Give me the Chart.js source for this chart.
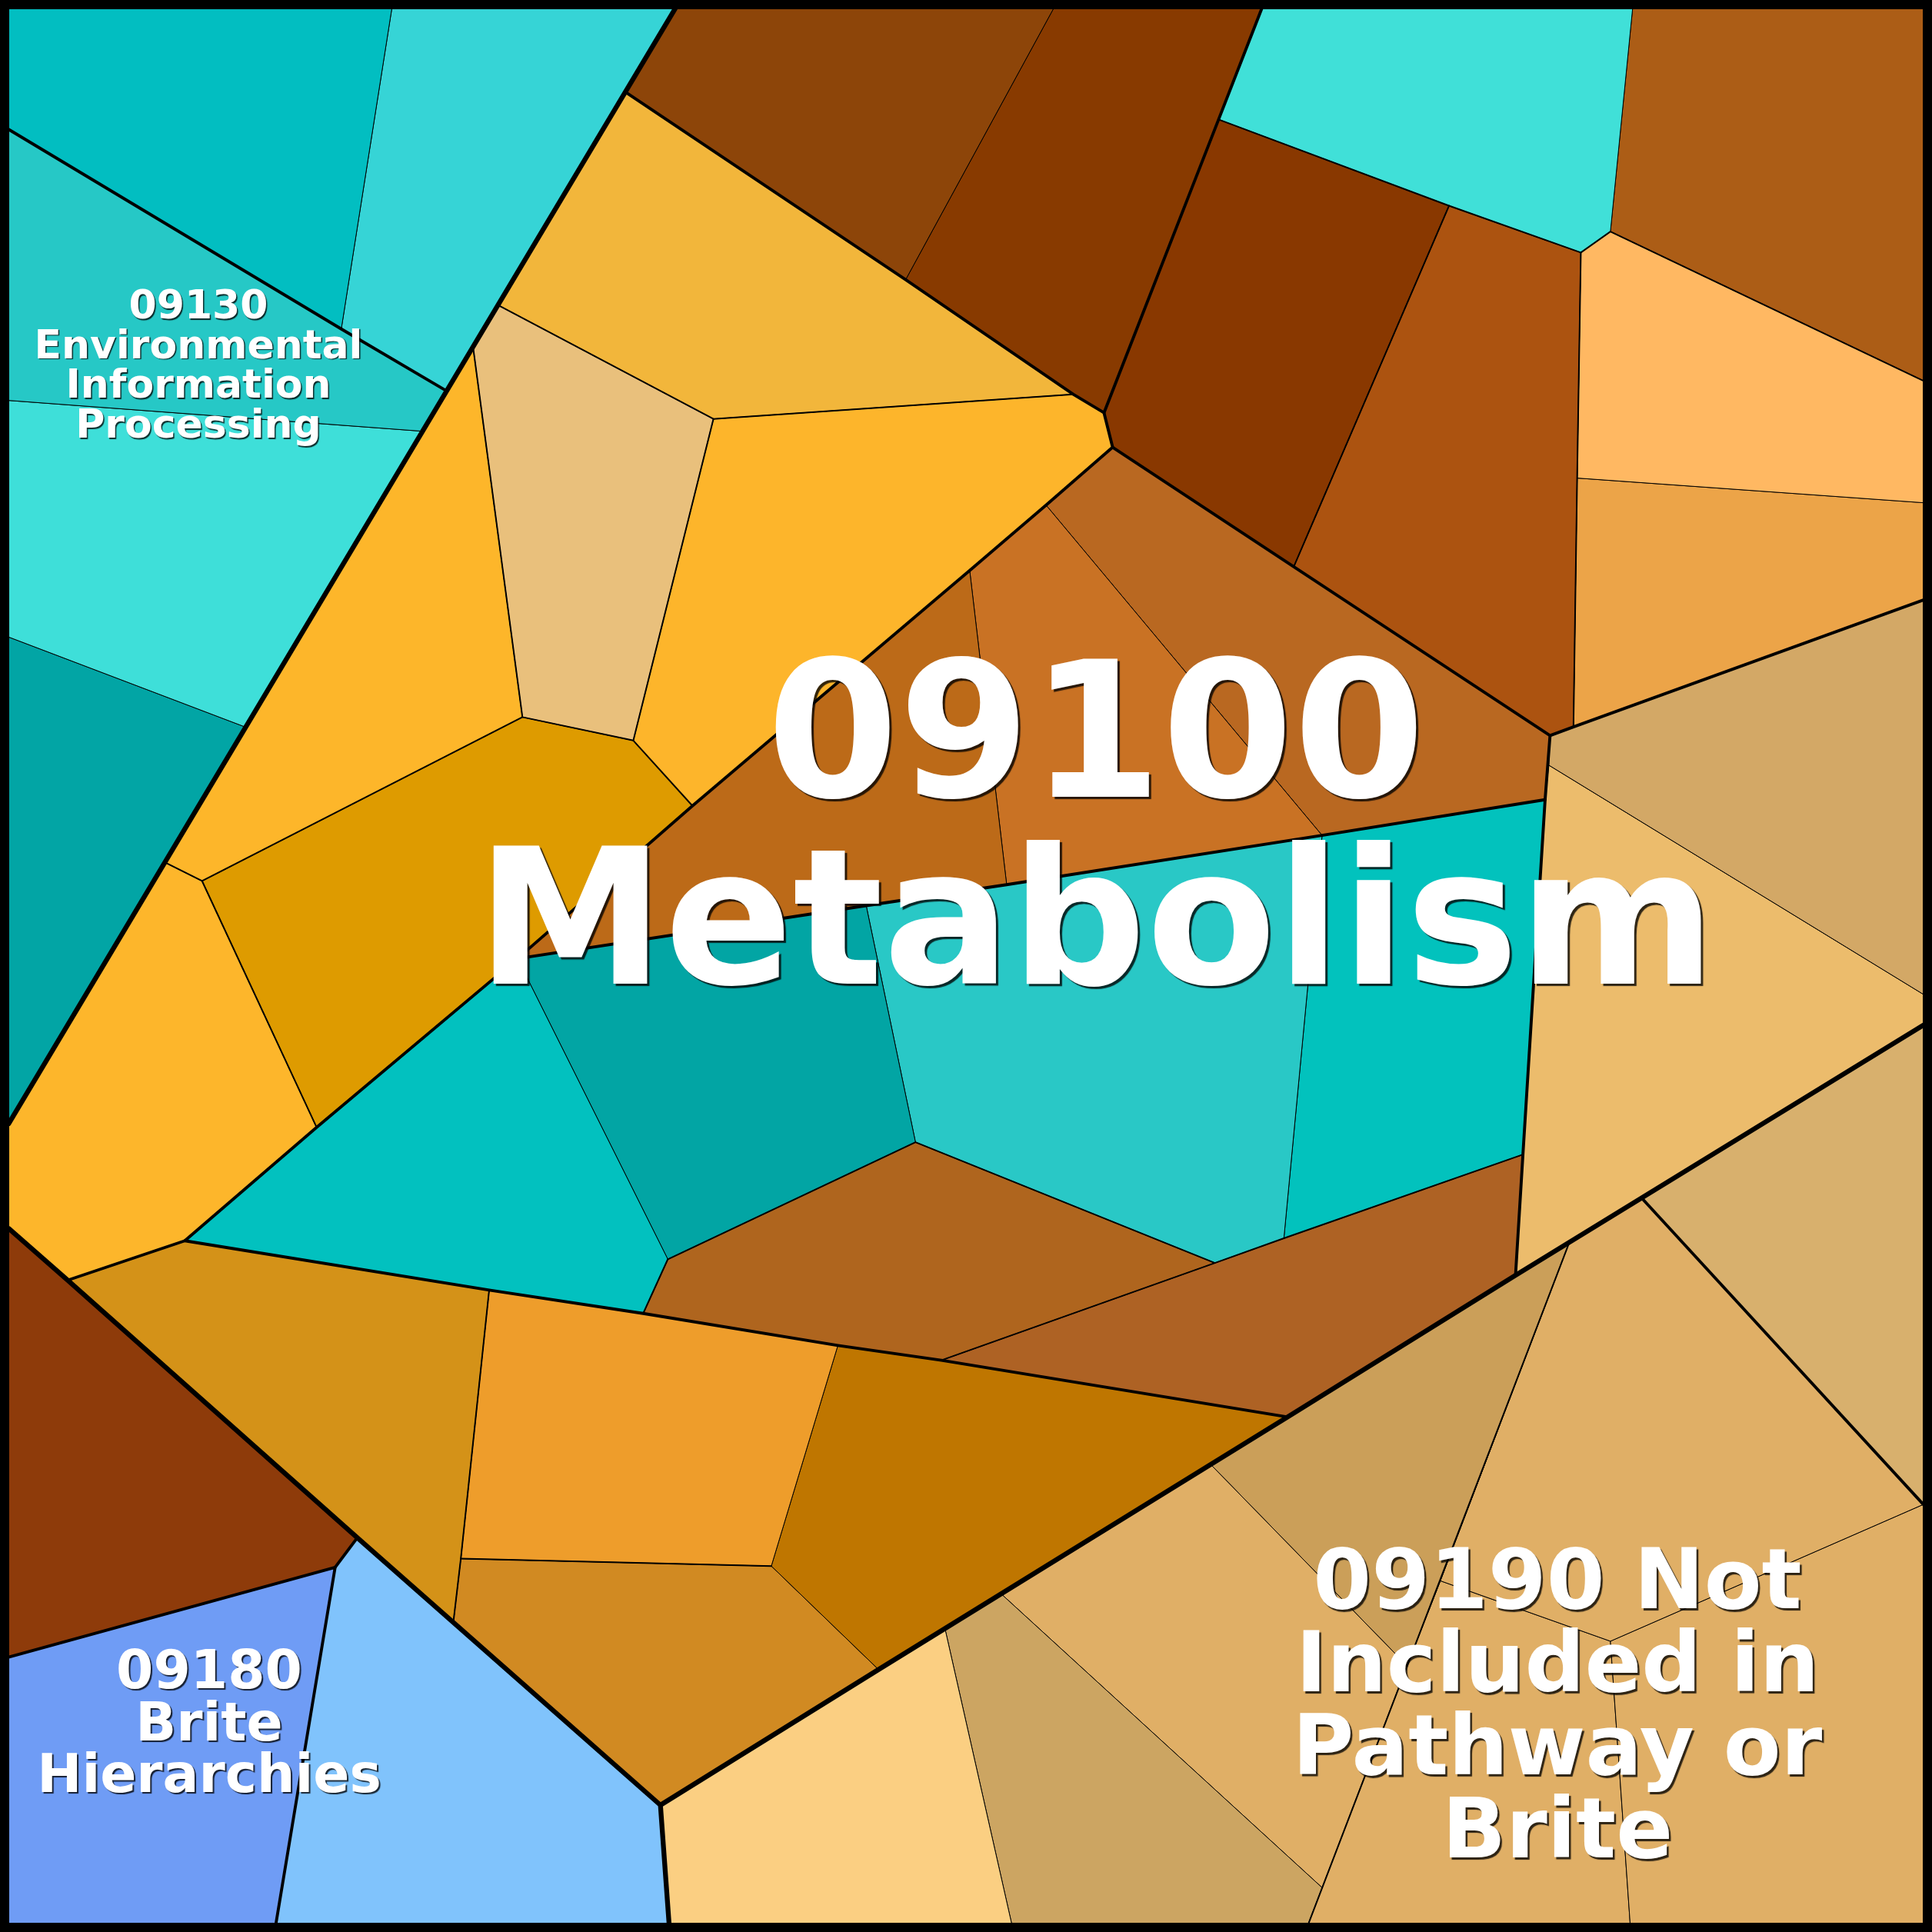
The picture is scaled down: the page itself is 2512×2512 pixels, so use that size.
<!DOCTYPE html>
<html>
<head>
<meta charset="utf-8">
<style>
html,body{margin:0;padding:0;background:#000;}
canvas{display:block;}
</style>
<script src="https://cdn.jsdelivr.net/npm/chart.js@4.4.1/dist/chart.umd.min.js"></script>
</head>
<body>
<canvas id="c" width="2512" height="2512" style="width:2512px;height:2512px"></canvas>
<script>
// ---------- DATA (Voronoi treemap cells, in chart units 0..1568) ----------
const cellIds = ['envA','envB','envC','envD','envE','Q','R','S','T','U','V','W','X','AK','AI','AJ','Y','Z','AA','AB','AC','AD','AE','AF','AG','AH','AL','TR','AM','AN','AO','AP','AQ','AR','F','G','H','I','J','K','L','M','N','O','P'];
const cellVertices = [
  [[7,7],[318,7],[277,267],[7,105]],
  [[318,7],[548,7],[362,317],[277,267]],
  [[7,105],[277,267],[362,317],[343,350],[7,325]],
  [[7,325],[343,350],[199,590],[7,517]],
  [[7,517],[199,590],[7,912]],
  [[548,7],[855,7],[735,227],[508,75]],
  [[855,7],[1024,7],[896,335],[871,320],[735,227]],
  [[508,75],[735,227],[871,320],[579,340],[405,248]],
  [[405,248],[579,340],[514,601],[424,582],[384,282]],
  [[579,340],[871,320],[896,335],[903,363],[849,410],[787,463],[562,654],[514,601]],
  [[384,282],[424,582],[164,715],[134,700]],
  [[424,582],[514,601],[562,654],[420,778],[257,915],[164,715]],
  [[134,700],[164,715],[257,915],[150,1007],[55,1039],[7,997],[7,912]],
  [[562,654],[787,463],[817,718],[703,735],[420,778]],
  [[787,463],[849,410],[1073,678],[817,718]],
  [[849,410],[903,363],[1050,460],[1258,597],[1254,649],[1073,678]],
  [[150,1007],[257,915],[420,778],[542,1022],[522,1066],[397,1047]],
  [[420,778],[703,735],[743,927],[542,1022]],
  [[703,735],[817,718],[1073,678],[1042,1005],[986,1025],[743,927]],
  [[1073,678],[1254,649],[1236,937],[1042,1005]],
  [[542,1022],[743,927],[986,1025],[764,1104],[680,1092],[522,1066]],
  [[986,1025],[1042,1005],[1236,937],[1230,1035],[1045,1150],[764,1104]],
  [[55,1039],[150,1007],[397,1047],[374,1265],[368,1316],[290,1248]],
  [[397,1047],[522,1066],[680,1092],[626,1271],[374,1265]],
  [[680,1092],[764,1104],[1045,1150],[713,1355],[626,1271]],
  [[374,1265],[626,1271],[713,1355],[536,1465],[368,1316]],
  [[896,335],[989,97],[1176,167],[1050,460],[903,363]],
  [[989,97],[1024,7],[1325,7],[1307,188],[1283,205],[1176,167]],
  [[1176,167],[1283,205],[1280,388],[1277,590],[1258,597],[1050,460]],
  [[1325,7],[1561,7],[1561,309],[1307,188]],
  [[1283,205],[1307,188],[1561,309],[1561,408],[1280,388]],
  [[1280,388],[1561,408],[1561,487],[1277,590]],
  [[1258,597],[1277,590],[1561,487],[1561,807],[1257,621]],
  [[1257,621],[1561,807],[1561,832],[1230,1035],[1236,937],[1254,649]],
  [[7,997],[55,1039],[290,1248],[272,1272],[7,1345]],
  [[7,1345],[272,1272],[224,1561],[7,1561]],
  [[272,1272],[290,1248],[536,1465],[543,1561],[224,1561]],
  [[536,1465],[767,1322],[821,1561],[543,1561]],
  [[767,1322],[813,1294],[1073,1532],[1062,1561],[821,1561]],
  [[813,1294],[983,1189],[1142,1352],[1073,1532]],
  [[983,1189],[1045,1150],[1230,1035],[1273,1010],[1169,1283],[1142,1352]],
  [[1273,1010],[1333,973],[1561,1221],[1307,1332],[1169,1283]],
  [[1333,973],[1561,832],[1561,1221]],
  [[1307,1332],[1561,1221],[1561,1561],[1323,1561]],
  [[1169,1283],[1307,1332],[1323,1561],[1062,1561],[1073,1532],[1142,1352]]
];
// hierarchy boundaries (top level, second level, third level)
const edgesLevel1 = [
  [[548,7],[7,912]],
  [[7,997],[55,1039],[290,1248],[536,1465],[543,1561]],
  [[536,1465],[713,1355],[1045,1150],[1230,1035],[1561,832]]
];
const edgesLevel2 = [
  [[7,105],[277,267],[362,317]],
  [[508,75],[735,227],[871,320],[896,335],[989,97],[1024,7]],
  [[896,335],[903,363],[849,410],[787,463],[562,654],[420,778],[257,915],[150,1007],[55,1039]],
  [[903,363],[1050,460],[1258,597],[1254,649],[1236,937],[1230,1035]],
  [[1258,597],[1277,590],[1561,487]],
  [[420,778],[703,735],[817,718],[1073,678],[1254,649]],
  [[150,1007],[397,1047],[522,1066],[680,1092],[764,1104],[1045,1150]],
  [[7,1345],[272,1272],[224,1561]],
  [[272,1272],[290,1248]],
  [[1333,973],[1561,1221]]
];
const edgesLevel3 = [
  [[405,248],[579,340],[871,320]],
  [[579,340],[514,601],[562,654]],
  [[384,282],[424,582],[514,601]],
  [[424,582],[164,715],[134,700]],
  [[164,715],[257,915]],
  [[989,97],[1176,167],[1283,205],[1307,188],[1561,309]],
  [[1283,205],[1280,388],[1277,590]],
  [[1176,167],[1050,460]],
  [[397,1047],[374,1265],[368,1316]],
  [[374,1265],[626,1271]],
  [[542,1022],[743,927],[986,1025],[1042,1005],[1236,937]],
  [[986,1025],[764,1104]],
  [[542,1022],[522,1066]],
  [[1273,1010],[1062,1561]]
];
const groupLabels = [
  ['09130','Environmental','Information','Processing'],
  ['09100','Metabolism'],
  ['09180','Brite','Hierarchies'],
  ['09190 Not','Included in','Pathway or','Brite']
];

// ---------- STYLE ----------
const cellFill = {
  envA:'#02BEC1', envB:'#36D4D6', envC:'#26C8C6', envD:'#3EDFD9', envE:'#02A5A5',
  Q:'#8D4509', R:'#883A00', S:'#F2B63B', T:'#E9C07C', U:'#FDB52B', V:'#FDB62A', W:'#DE9B00', X:'#FDB62B',
  AK:'#BC6A18', AI:'#C97224', AJ:'#B96821',
  Y:'#02C1BF', Z:'#02A5A4', AA:'#29C8C6', AB:'#02C2BD', AC:'#AF651E', AD:'#AE6224',
  AE:'#D49218', AF:'#EE9D2B', AG:'#BF7600', AH:'#D18A22',
  AL:'#893800', TR:'#40E0D8', AM:'#AC5310', AN:'#AC5D16', AO:'#FFB862', AP:'#ECA448',
  AQ:'#D3A866', AR:'#ECBC6C',
  F:'#8E3B0A', G:'#6F9CF5', H:'#80C3FC',
  I:'#FBCF82', J:'#CCA562', K:'#E0AF66', L:'#CB9F59', M:'#E0AF66', N:'#D8B06D', O:'#E0AF66', P:'#E0AF66'
};
const labelStyle = [
  {x:258, y0:414, lh:51.7, size:52, sh:1.5},
  {x:1425, y0:1036, lh:243, size:246, sh:3},
  {x:272, y0:2195, lh:67.5, size:69.5, sh:2},
  {x:2025, y0:2091, lh:108, size:109, sh:2.5}
];

const toPts = arr => arr.map(p => ({x:p[0], y:p[1]}));
const datasets = [];
cellVertices.forEach((poly, i) => {
  const pts = toPts(poly.concat([poly[0]]));
  datasets.push({
    data: pts, fill:'shape', backgroundColor: cellFill[cellIds[i]],
    borderColor:'#000', borderWidth:1, pointRadius:0, tension:0, order:10,
    borderJoinStyle:'round'
  });
});
function addEdges(list, w, ord) {
  list.forEach(pl => datasets.push({
    data: toPts(pl), fill:false, borderColor:'#000', borderWidth:w,
    pointRadius:0, tension:0, order:ord, borderCapStyle:'round', borderJoinStyle:'round'
  }));
}
addEdges(edgesLevel3, 2, 3);
addEdges(edgesLevel2, 3.9, 2);
addEdges(edgesLevel1, 6.3, 1);

const bgPlugin = {
  id:'bg',
  beforeDraw(chart){
    const c = chart.ctx; c.save(); c.fillStyle='#000'; c.fillRect(0,0,chart.width,chart.height); c.restore();
  },
  afterDraw(chart){
    const c = chart.ctx;
    c.save();
    c.strokeStyle='#000'; c.lineWidth=12; c.lineJoin='round';
    c.strokeRect(6,6,chart.width-12,chart.height-12);
    c.textAlign='center'; c.textBaseline='alphabetic';
    groupLabels.forEach((lines, gi) => {
      const st = labelStyle[gi];
      c.font = 'bold ' + st.size + 'px "DejaVu Sans"';
      lines.forEach((t, li) => {
        const y = st.y0 + li*st.lh;
        c.shadowColor='rgba(0,0,0,0.8)'; c.shadowOffsetX=st.sh; c.shadowOffsetY=st.sh; c.shadowBlur=1;
        c.fillStyle='#fff';
        c.fillText(t, st.x, y);
      });
    });
    c.restore();
  }
};

new Chart(document.getElementById('c').getContext('2d'), {
  type:'line',
  data:{datasets},
  options:{
    responsive:false, animation:false, events:[],
    layout:{padding:0},
    scales:{
      x:{type:'linear', min:0, max:1568, display:false},
      y:{type:'linear', min:0, max:1568, reverse:true, display:false}
    },
    plugins:{legend:{display:false}, tooltip:{enabled:false}}
  },
  plugins:[bgPlugin]
});
</script>
</body>
</html>
